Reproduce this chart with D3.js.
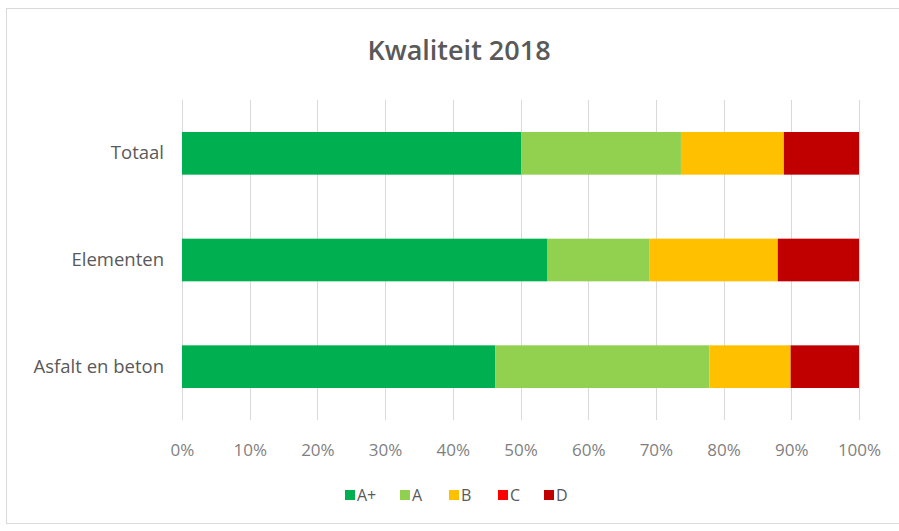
<!DOCTYPE html>
<html>
<head>
<meta charset="utf-8">
<script src="https://cdn.jsdelivr.net/npm/d3@7"></script>
<style>
  body { margin: 0; background: #fff; }
  text { font-family: "Open Sans", "Noto Sans", sans-serif; }
</style>
</head>
<body>
<div class="canvas"></div>
<script>
// DATA
const categories = ['Totaal', 'Elementen', 'Asfalt en beton'];
const series = ['A+', 'A', 'B', 'C', 'D'];
const valAplus = [50.1, 54.0, 46.3];
const valA = [23.6, 15.0, 31.6];
const valB = [15.2, 19.0, 12.0];
const valC = [0, 0, 0];
const valD = [11.1, 12.0, 10.1];
const tickValues = [0, 0.1, 0.2, 0.3, 0.4, 0.5, 0.6, 0.7, 0.8, 0.9, 1];
const colors = ['#00b050', '#92d050', '#ffc000', '#ff0000', '#c00000'];

const dims = { width: 899, height: 531 };
const plot = { left: 182, right: 859, top: 100, bottom: 420 };

const svg = d3.select('.canvas')
  .append('svg')
  .attr('width', dims.width)
  .attr('height', dims.height);

// CHART FRAME
svg.append('rect')
  .attr('x', 6.5).attr('y', 8.5)
  .attr('width', 900).attr('height', 515)
  .attr('fill', '#fff')
  .attr('stroke', '#d9d9d9');

// TITLE
svg.append('text')
  .attr('x', 459).attr('y', 60)
  .attr('text-anchor', 'middle')
  .attr('font-size', 27)
  .attr('font-weight', 600)
  .attr('fill', '#595959')
  .text('Kwaliteit 2018');

const rows = categories.map((c, i) => ({
  cat: c, 'A+': valAplus[i], A: valA[i], B: valB[i], C: valC[i], D: valD[i]
}));

const stack = d3.stack().keys(series).offset(d3.stackOffsetExpand);
const layers = stack(rows);

const x = d3.scaleLinear().domain([0, 1]).range([plot.left, plot.right]);
const y = d3.scaleBand()
  .domain(categories)
  .range([plot.top, plot.bottom])
  .paddingInner(0.6)
  .paddingOuter(0.3);

const color = d3.scaleOrdinal().domain(series).range(colors);

// GRIDLINES
svg.append('g')
  .selectAll('line')
  .data(tickValues)
  .enter()
  .append('line')
  .attr('x1', d => Math.round(x(d)) + 0.5)
  .attr('x2', d => Math.round(x(d)) + 0.5)
  .attr('y1', plot.top)
  .attr('y2', plot.bottom)
  .attr('stroke', '#d9d9d9');

// BARS
svg.append('g')
  .selectAll('g')
  .data(layers)
  .enter()
  .append('g')
  .attr('fill', d => color(d.key))
  .selectAll('rect')
  .data(d => d)
  .enter()
  .append('rect')
  .attr('x', d => x(d[0]))
  .attr('y', d => y(d.data.cat))
  .attr('width', d => x(d[1]) - x(d[0]))
  .attr('height', y.bandwidth());

// X AXIS
const xAxis = d3.axisBottom(x)
  .tickValues(tickValues)
  .tickFormat(d3.format('.0%'))
  .tickSize(0)
  .tickPadding(24);

const xg = svg.append('g')
  .attr('transform', `translate(0, ${plot.bottom})`)
  .call(xAxis);
xg.select('.domain').remove();
xg.selectAll('text')
  .attr('font-size', 17)
  .attr('fill', '#7f7f7f')
  .style('font-family', '"Open Sans", sans-serif');

// Y AXIS
const yAxis = d3.axisLeft(y).tickSize(0).tickPadding(18);
const yg = svg.append('g')
  .attr('transform', `translate(${plot.left}, 0)`)
  .call(yAxis);
yg.select('.domain').remove();
yg.selectAll('text')
  .attr('font-size', 18.5)
  .attr('fill', '#595959')
  .style('font-family', '"Open Sans", sans-serif');

// LEGEND
const legendX = [345, 400, 449, 498, 544];
const legend = svg.append('g')
  .selectAll('g')
  .data(series)
  .enter()
  .append('g')
  .attr('transform', (d, i) => `translate(${legendX[i]}, 495)`);

legend.append('rect')
  .attr('x', 0).attr('y', -5)
  .attr('width', 10).attr('height', 10)
  .attr('fill', d => color(d));

legend.append('text')
  .attr('x', 12).attr('y', 6)
  .attr('font-size', 16)
  .attr('fill', '#595959')
  .text(d => d);
</script>
</body>
</html>
